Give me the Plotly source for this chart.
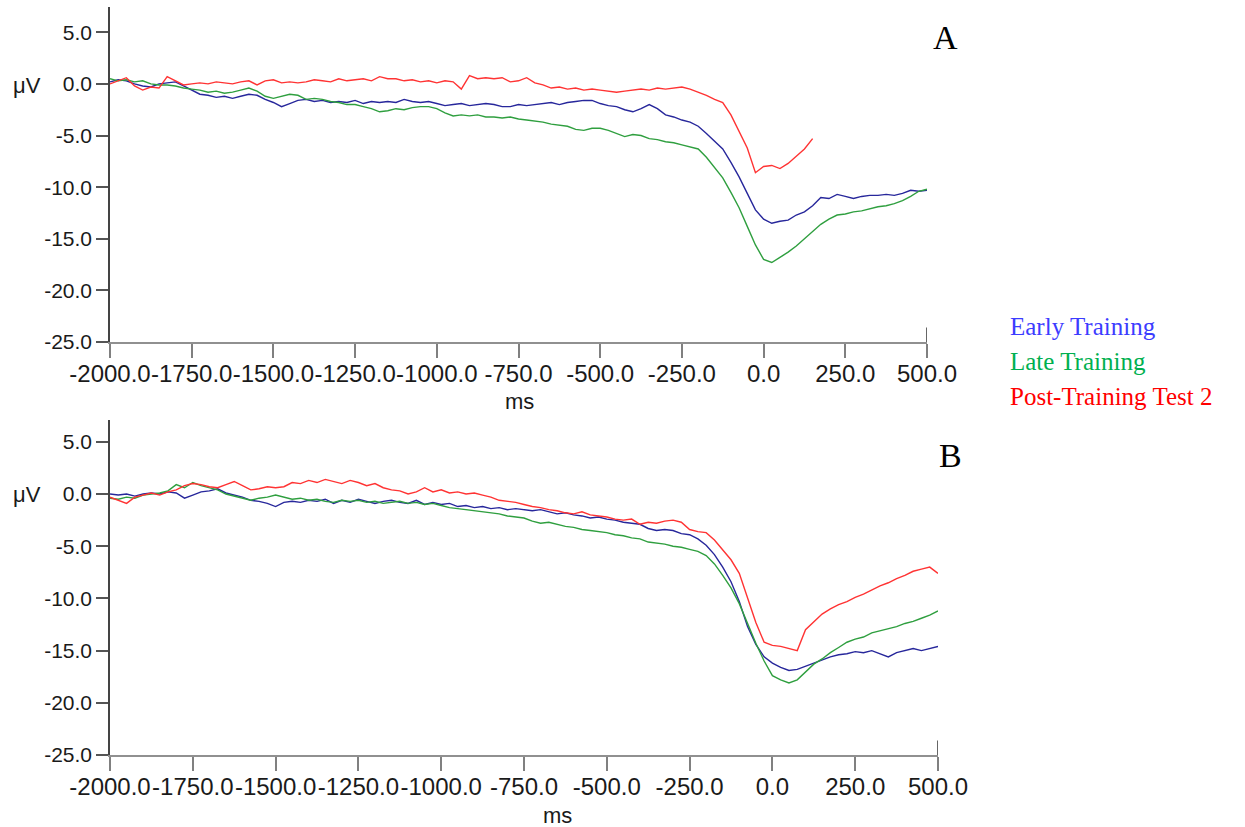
import plotly.graph_objects as go

# sampling grid (ms)
times = list(range(-2000, 501, 25))

# Panel A
a_early = [0.2, 0.4, 0.3, 0.0, -0.2, -0.3, 0.0, 0.1, 0.2, -0.2,
           -0.6, -1.0, -1.1, -1.3, -1.2, -1.4, -1.2, -1.0, -1.1, -1.5,
           -1.8, -2.2, -1.9, -1.6, -1.5, -1.7, -1.6, -1.8, -1.7, -1.8,
           -1.6, -1.9, -1.7, -1.8, -1.7, -1.8, -1.5, -1.7, -1.8, -1.7,
           -1.9, -2.1, -2.0, -1.9, -2.1, -2.0, -1.9, -2.0, -2.2, -2.2,
           -2.0, -2.1, -2.0, -1.9, -1.8, -2.0, -1.8, -1.7, -1.6, -1.6,
           -1.9, -2.1, -2.2, -2.5, -2.7, -2.4, -2.0, -2.4, -3.0, -3.2,
           -3.5, -3.7, -4.1, -4.8, -5.6, -6.3, -7.6, -9.0, -10.6, -12.2,
           -13.1, -13.5, -13.3, -13.2, -12.7, -12.4, -11.8, -11.0, -11.1, -10.7,
           -10.9, -11.1, -10.9, -10.8, -10.8, -10.7, -10.8, -10.6, -10.3, -10.4,
           -10.3]
a_late = [0.5, 0.3, 0.4, 0.2, 0.3, 0.0, -0.1, -0.1, -0.2, -0.4,
          -0.5, -0.6, -0.8, -0.7, -0.9, -0.8, -0.6, -0.4, -0.7, -1.2,
          -1.4, -1.2, -1.0, -1.1, -1.5, -1.4, -1.5, -1.7, -1.8, -2.0,
          -2.0, -2.2, -2.4, -2.7, -2.6, -2.4, -2.5, -2.3, -2.2, -2.2,
          -2.4, -2.8, -3.1, -3.0, -3.1, -3.0, -3.2, -3.2, -3.3, -3.2,
          -3.4, -3.5, -3.6, -3.7, -3.9, -4.0, -4.1, -4.4, -4.5, -4.3,
          -4.3, -4.5, -4.8, -5.1, -4.9, -5.0, -5.3, -5.4, -5.6, -5.7,
          -5.9, -6.1, -6.3, -7.1, -8.1, -9.1, -10.5, -12.0, -13.8, -15.6,
          -17.0, -17.3, -16.8, -16.3, -15.7, -15.0, -14.3, -13.6, -13.1, -12.7,
          -12.6, -12.4, -12.3, -12.1, -11.9, -11.8, -11.6, -11.3, -10.9, -10.4,
          -10.2]
a_post = [0.0, 0.3, 0.6, -0.2, -0.6, -0.3, -0.4, 0.7, 0.3, -0.1,
          0.0, 0.1, 0.0, 0.2, 0.1, 0.0, 0.2, 0.3, -0.1, 0.3,
          0.4, 0.1, 0.2, 0.1, 0.2, 0.4, 0.3, 0.2, 0.5, 0.3,
          0.4, 0.5, 0.3, 0.7, 0.5, 0.5, 0.3, 0.4, 0.2, 0.3,
          0.1, 0.3, 0.2, -0.5, 0.8, 0.5, 0.6, 0.5, 0.6, 0.2,
          0.3, 0.6, 0.1, -0.1, -0.4, -0.3, -0.5, -0.4, -0.6, -0.5,
          -0.6, -0.7, -0.8, -0.7, -0.6, -0.5, -0.6, -0.4, -0.5, -0.4,
          -0.3, -0.5, -0.8, -1.1, -1.5, -1.8, -3.0, -4.6, -6.2, -8.6,
          -8.0, -7.9, -8.2, -7.7, -7.0, -6.3, -5.3]

# Panel B
b_early = [0.0, -0.1, 0.0, -0.2, 0.0, 0.1, 0.0, 0.2, 0.1, -0.4,
           -0.1, 0.2, 0.3, 0.5, 0.1, -0.1, -0.3, -0.6, -0.7, -0.9,
           -1.2, -0.8, -0.7, -0.8, -0.6, -0.7, -0.5, -0.9, -0.6, -0.8,
           -0.5, -0.7, -0.9, -0.7, -0.6, -0.8, -0.9, -0.6, -1.0, -0.8,
           -1.0, -0.9, -1.2, -1.1, -1.3, -1.2, -1.4, -1.3, -1.5, -1.4,
           -1.5, -1.6, -1.5, -1.7, -1.9, -1.8, -2.0, -2.1, -2.3, -2.2,
           -2.4, -2.5, -2.7, -2.8, -2.9, -3.3, -3.5, -3.4, -3.5, -3.8,
           -3.9, -4.3, -4.9, -5.8, -7.0, -8.4, -10.3, -12.7, -14.4, -15.6,
           -16.2, -16.6, -16.9, -16.8, -16.5, -16.2, -15.9, -15.6, -15.4, -15.3,
           -15.1, -15.2, -15.0, -15.3, -15.6, -15.2, -15.0, -14.8, -15.0, -14.8,
           -14.6]
b_late = [-0.4, -0.5, -0.3, -0.4, -0.1, 0.0, 0.1, 0.3, 0.9, 0.6,
          1.1, 0.8, 0.6, 0.4, 0.0, -0.2, -0.4, -0.6, -0.4, -0.3,
          -0.1, -0.3, -0.5, -0.4, -0.6, -0.5, -0.7, -0.8, -0.6, -0.7,
          -0.6, -0.8, -0.7, -0.9, -0.8, -0.7, -0.9, -0.8, -1.0, -0.9,
          -1.1, -1.3, -1.4, -1.5, -1.6, -1.7, -1.8, -1.9, -2.1, -2.2,
          -2.3, -2.6, -2.8, -2.7, -2.9, -3.1, -3.2, -3.4, -3.5, -3.6,
          -3.7, -3.9, -4.0, -4.2, -4.3, -4.6, -4.7, -4.8, -5.0, -5.1,
          -5.3, -5.5, -5.9, -6.7, -7.8, -9.0, -10.5, -12.4, -14.3, -16.0,
          -17.4, -17.8, -18.1, -17.8, -17.0, -16.3, -15.8, -15.2, -14.7, -14.2,
          -13.9, -13.7, -13.3, -13.1, -12.9, -12.7, -12.4, -12.2, -11.9, -11.6,
          -11.2]
b_post = [-0.3, -0.6, -0.9, -0.3, -0.1, 0.1, -0.1, 0.2, 0.4, 0.8,
          1.0, 0.9, 0.7, 0.6, 0.9, 1.2, 0.8, 0.4, 0.5, 0.7,
          0.6, 0.7, 1.1, 1.0, 1.3, 1.1, 1.4, 1.2, 1.0, 1.3,
          1.1, 0.8, 1.0, 0.6, 0.4, 0.3, 0.0, 0.2, 0.6, 0.2,
          0.4, 0.1, 0.2, 0.0, 0.1, -0.1, -0.3, -0.6, -0.7, -0.8,
          -1.0, -1.2, -1.3, -1.5, -1.6, -1.8, -1.9, -1.7, -2.0, -2.1,
          -2.2, -2.4, -2.5, -2.4, -2.9, -2.7, -2.8, -2.6, -2.5, -2.7,
          -3.4, -3.6, -3.7, -4.4, -5.4, -6.3, -7.6, -9.9, -12.3, -14.2,
          -14.5, -14.6, -14.8, -15.0, -13.0, -12.2, -11.5, -11.0, -10.6, -10.3,
          -9.9, -9.6, -9.2, -8.8, -8.5, -8.1, -7.8, -7.4, -7.2, -7.0,
          -7.6]

series_names = ["Early Training", "Late Training", "Post-Training Test 2"]
line_colors = ["#27279b", "#2f9f3f", "#ff3333"]
legend_colors = ["#3c3cff", "#00b050", "#ff0000"]

x_ticks = [-2000, -1750, -1500, -1250, -1000, -750, -500, -250, 0, 250, 500]
y_ticks = [-25, -20, -15, -10, -5, 0, 5]
x_ticktext = [f"{v:.1f}" for v in x_ticks]
y_ticktext = [f"{v:.1f}" for v in y_ticks]

W, H = 1245, 827

fig = go.Figure()
for i, (ys, c) in enumerate(zip([a_early, a_late, a_post], line_colors)):
    fig.add_trace(go.Scatter(x=times[:len(ys)], y=ys, mode="lines",
                             line=dict(color=c, width=1.4), name=series_names[i],
                             xaxis="x", yaxis="y", showlegend=False))
for i, (ys, c) in enumerate(zip([b_early, b_late, b_post], line_colors)):
    fig.add_trace(go.Scatter(x=times[:len(ys)], y=ys, mode="lines",
                             line=dict(color=c, width=1.4), name=series_names[i],
                             xaxis="x2", yaxis="y2", showlegend=False))

xa_common = dict(tickvals=x_ticks, ticktext=x_ticktext, ticks="outside", ticklen=14,
                 tickcolor="#808080", tickwidth=1.5, showline=True, linecolor="#909090",
                 linewidth=1.5, showgrid=False, zeroline=False, tickangle=0,
                 automargin=False, ticklabelstandoff=-5,
                 tickfont=dict(family="Liberation Sans, Arial", size=24, color="#1a1a1a"),
                 range=[-2000, 500])
ya_common = dict(tickvals=y_ticks, ticktext=y_ticktext, ticks="outside", ticklen=12,
                 tickcolor="#555555", tickwidth=1.5, showline=True, linecolor="#444444",
                 linewidth=1.5, showgrid=False, zeroline=False, automargin=False,
                 tickfont=dict(family="Liberation Sans, Arial", size=21, color="#1a1a1a"))

fig.update_layout(
    template="none",
    width=W, height=H, margin=dict(l=0, r=0, t=0, b=0, pad=0), autosize=False,
    paper_bgcolor="white", plot_bgcolor="white",
    xaxis=dict(domain=[110 / W, 927 / W], anchor="y", **xa_common),
    yaxis=dict(domain=[1 - 342 / H, 1 - 7 / H], anchor="x", range=[-25, 7.45], **ya_common),
    xaxis2=dict(domain=[110 / W, 938 / W], anchor="y2", **xa_common),
    yaxis2=dict(domain=[1 - 755 / H, 1 - 420 / H], anchor="x2", range=[-25, 7.09], **ya_common),
)

# end tick at 500 extending above the axis
fig.add_shape(type="line", xref="x", yref="y", x0=500, x1=500, y0=-25, y1=-23.6,
              line=dict(color="#333333", width=1.5))
fig.add_shape(type="line", xref="x2", yref="y2", x0=500, x1=500, y0=-25, y1=-23.6,
              line=dict(color="#333333", width=1.5))


def label(text, px, py, font, xanchor="center"):
    return dict(text=text, x=px / W, y=1 - py / H, xref="paper", yref="paper",
                xanchor=xanchor, yanchor="middle", showarrow=False, font=font)


ann = []
axis_font = dict(family="Liberation Sans, Arial", size=22, color="#1a1a1a")
ann.append(label("μV", 27, 85, axis_font))
ann.append(label("μV", 27, 495, axis_font))
ann.append(label("ms", 519, 402, axis_font))
ann.append(label("ms", 557, 815, axis_font))
serif = "Liberation Serif, Times New Roman"
ann.append(label("A", 945, 37, dict(family=serif, size=34, color="black")))
ann.append(label("B", 950, 455, dict(family=serif, size=34, color="black")))
for name, col, yy in zip(series_names, legend_colors, [326, 361, 397]):
    ann.append(label(name, 1008, yy, dict(family=serif, size=25, color=col), xanchor="left"))
fig.update_layout(annotations=ann)

fig.write_html("out.html")
